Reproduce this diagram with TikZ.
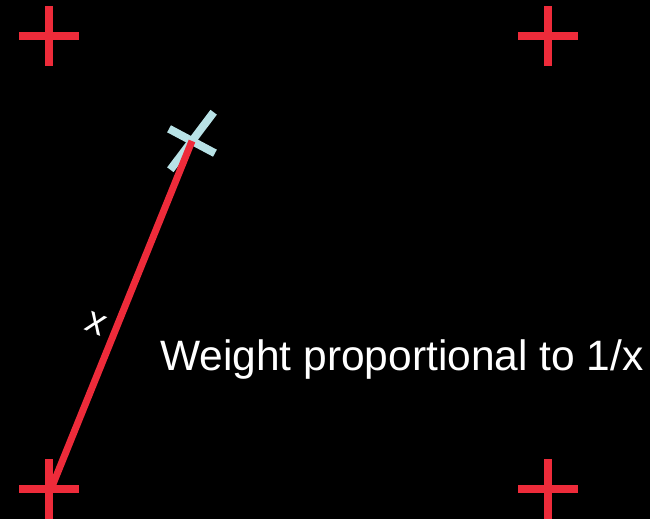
\documentclass[tikz,border=0pt]{standalone}
\usepackage{fontspec}
\setmainfont{Liberation Sans}
\definecolor{markred}{RGB}{238,43,58}
\definecolor{markblue}{RGB}{184,226,230}
\tikzset{
  plusbar/.style={draw=markred, line width=8pt},
  xbar/.style={draw=markblue, line width=8pt},
  link/.style={draw=markred, line width=7pt},
  lbl/.style={text=white, inner sep=0pt, font=\fontsize{42.5}{50}\selectfont},
  small/.style={text=white, inner sep=0pt, font=\fontsize{38}{44}\selectfont}
}
\newcommand{\plusmark}[1]{%
  \draw[plusbar] ([xshift=-30pt]#1) -- ([xshift=30pt]#1);
  \draw[plusbar] ([yshift=-30pt]#1) -- ([yshift=30pt]#1);}
\begin{document}
\begin{tikzpicture}[x=1pt,y=-1pt]
  \fill[black] (0,0) rectangle (650,519);
  \useasboundingbox (0,0) rectangle (650,519);
  \coordinate (tl) at (49,36);
  \coordinate (tr) at (548,36);
  \coordinate (bl) at (49,489);
  \coordinate (br) at (548,489);
  \coordinate (p) at (192,141);
  \coordinate (s) at (51,489);
  \plusmark{tl}
  \plusmark{tr}
  \plusmark{bl}
  \plusmark{br}
  % light blue cross marker
  \draw[xbar] ([shift={(152:26pt)}]p) -- ([shift={(-28:26pt)}]p);
  \draw[xbar] ([shift={(53:36pt)}]p) -- ([shift={(233:36pt)}]p);
  % link
  \draw[link] (s) -- (p);
  \node[small, rotate=-22] (xl) at (96,324) {x};
  \node[lbl, anchor=base west] (w) at (160,370) {Weight proportional to 1/x};
\end{tikzpicture}
\end{document}
